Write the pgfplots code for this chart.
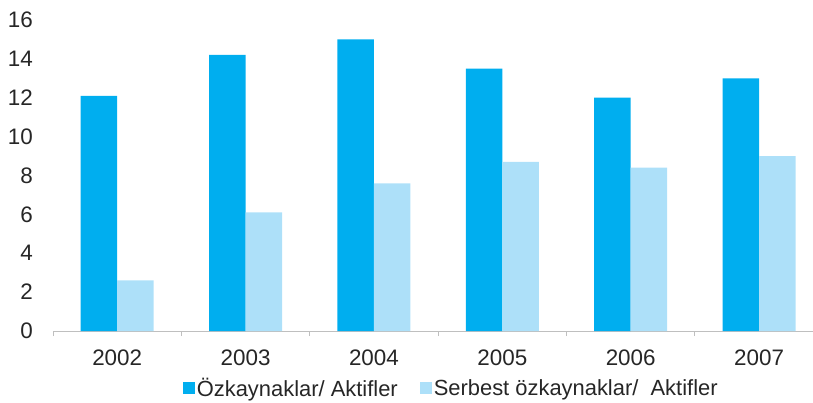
\documentclass[border=0pt]{standalone}
\usepackage{fontspec}
\setmainfont{Liberation Sans}
\usepackage{pgfplots}
\pgfplotsset{compat=1.18}
\definecolor{ozk}{HTML}{00AEEF}
\definecolor{serb}{HTML}{ADE0F9}
\definecolor{axgray}{HTML}{BFBFBF}
\begin{document}
\begin{tikzpicture}
\useasboundingbox (-53bp,-72bp) rectangle (760bp,331bp);
\begin{axis}[
    at={(0,0)}, anchor=south west,
    width=760bp, height=311bp, scale only axis,
    ybar=0pt, bar width=36.5bp,
    xmin=-0.5, xmax=5.42,
    ymin=0, ymax=16,
    ytick={0,2,...,16},
    xtick={0,...,5},
    xticklabels={2002,2003,2004,2005,2006,2007},
    major tick length=0pt,
    tick align=outside,
    every tick/.style={axgray, line width=0.8pt},
    extra x ticks={-0.5,0.5,...,4.5},
    extra x tick labels={},
    extra x tick style={major tick length=5bp},
    axis x line*=bottom, axis y line*=left,
    x axis line style={draw=axgray, line width=0.8pt, -},
    y axis line style={draw=none},
    tick label style={font=\fontsize{22.5}{26}\selectfont, text=black!85,
        /pgf/number format/assume math mode=true},
    yticklabel style={inner sep=0pt, anchor=east, xshift=-20bp},
    xticklabel style={inner sep=0pt, anchor=north, yshift=-19bp},
    legend style={at={(0.524,-0.183)}, anchor=center, draw=none,
        font=\fontsize{22}{26}\selectfont, text=black!85,
        legend columns=2,
        /tikz/every even column/.append style={column sep=20bp},
        nodes={inner sep=2bp}},
    legend image code/.code={\fill[#1,draw=none] (0bp,-6bp) rectangle (12bp,6bp);},
]
\addplot[fill=ozk, draw=none] coordinates {
    (0,12.1) (1,14.2) (2,15.0) (3,13.5) (4,12.0) (5,13.0)
};
\addlegendentry{Özkaynaklar/ Aktifler}
\addplot[fill=serb, draw=none] coordinates {
    (0,2.6) (1,6.1) (2,7.6) (3,8.7) (4,8.4) (5,9.0)
};
\addlegendentry{Serbest özkaynaklar/\ \ Aktifler}
\end{axis}
\end{tikzpicture}
\end{document}
